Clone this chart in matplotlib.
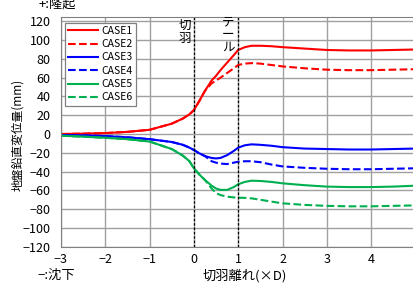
import matplotlib
matplotlib.use("Agg")
import matplotlib.pyplot as plt

plt.rcParams['font.family'] = ['Noto Sans CJK JP', 'DejaVu Sans']

# ---- data ----
x_common = [-3, -2.5, -2, -1.5, -1, -0.5, -0.25, -0.1, 0, 0.12, 0.25]
x_after = [0.4, 0.5, 0.6, 0.75, 0.9, 1.0, 1.15, 1.3, 1.5, 1.75, 2.0, 2.5, 3.0, 3.5, 4.0, 4.5, 5.0]

case1_pre = [0, 0.4, 1, 2.3, 4.5, 11, 16.5, 21, 25.5, 35, 46]
case1_post = [57, 62, 68, 76, 84, 89.5, 92.5, 94, 94, 93.5, 92.5, 91, 89.5, 89, 89, 89.5, 90]
case2_post = [54, 57, 60, 65, 70, 73.5, 75, 75.5, 75, 73.5, 72, 70, 68.5, 68, 68, 68.5, 69]

case3_pre = [-1, -1.5, -2.2, -3.5, -5.5, -8.5, -11.5, -14.5, -17, -20.5, -23.5]
case3_post = [-25.5, -26, -25.5, -22.5, -18, -14.5, -12, -11, -11.5, -12.5, -14, -15.5, -16, -16.5, -16.5, -16, -15.5]
case4_post = [-29, -30.5, -31.5, -32, -30.5, -29.5, -29, -29, -30, -32.5, -34.5, -36, -37, -37.5, -37.5, -37, -36.5]

case5_pre = [-1.8, -2.8, -4, -5.5, -8, -16, -23, -29, -36.5, -43, -49]
case5_post = [-55, -58, -59.5, -59.5, -56.5, -53.5, -51, -49.7, -50, -51, -52.5, -54.5, -56, -56.5, -56.5, -56, -55]
case6_post = [-58, -63, -65, -66.7, -67.5, -67.8, -68, -68.5, -70, -72, -73.8, -75.5, -76.5, -77, -77, -76.5, -76]

labels = ['CASE1', 'CASE2', 'CASE3', 'CASE4', 'CASE5', 'CASE6']
colors = ['#ff0000', '#ff0000', '#0000ff', '#0000ff', '#00b050', '#00b050']
styles = ['-', '--', '-', '--', '-', '--']

xticks = [-3, -2, -1, 0, 1, 2, 3, 4]
yticks = list(range(-120, 121, 20))

xs = x_common + x_after
series = [
    case1_pre + case1_post,
    case1_pre + case2_post,
    case3_pre + case3_post,
    case3_pre + case4_post,
    case5_pre + case5_post,
    case5_pre + case6_post,
]

W, H = 413, 283
fig = plt.figure(figsize=(W / 100, H / 100), dpi=100)
ax = fig.add_axes([61 / W, 1 - 246.7 / H, 354.4 / W, (246.7 - 17.3) / H])
ax.set_xlim(-3, 5)
ax.set_ylim(-120, 124.3)

ax.set_xticks(xticks)
ax.set_yticks(yticks)
ax.set_yticklabels([str(v).replace('-', '\u2212') for v in yticks])
ax.set_xticklabels([str(v).replace('-', '\u2212') for v in xticks])
ax.tick_params(length=0, labelsize=9, colors='black')
ax.tick_params(axis='y', pad=7.5)
ax.tick_params(axis='x', pad=4.5)
ax.grid(True, color='#a0a0a0', lw=1.0)
ax.set_axisbelow(True)
for s in ['top', 'left', 'bottom']:
    ax.spines[s].set_color('#808080')
ax.spines['right'].set_visible(False)

for ys, lab, c, ls in zip(series, labels, colors, styles):
    ax.plot(xs, ys, color=c, ls=ls, lw=1.5, label=lab)

ax.axvline(0, color='black', ls=(0, (2, 1.5)), lw=0.9)
ax.axvline(1, color='black', ls=(0, (2, 1.5)), lw=0.9)

leg = ax.legend(loc='upper left', bbox_to_anchor=(65 / W, 1 - 22.7 / H),
                bbox_transform=fig.transFigure, fontsize=7.5, frameon=True,
                fancybox=False, edgecolor='#808080', framealpha=1,
                handlelength=2.9, handletextpad=0.3, labelspacing=0.32,
                borderpad=0.3, borderaxespad=0)
leg.get_frame().set_linewidth(0.9)

fig.text(185 / W, 1 - 19 / H, '切\n羽', ha='center', va='top', fontsize=9,
         linespacing=1.0)
fig.text(228 / W, 1 - 15 / H, 'テ\nー\nル', ha='center', va='top', fontsize=9,
         linespacing=1.0)

fig.text(18 / W, 1 - 135 / H, '地盤鉛直変位量(mm)', rotation=90, ha='center',
         va='center', fontsize=8.5)
fig.text(39 / W, 1 - 5 / H, '+:隆起', ha='left', va='center', fontsize=9.5)
fig.text(38 / W, 1 - 275 / H, '\u2212:沈下', ha='left', va='center', fontsize=9.5)
fig.text(245 / W, 1 - 276 / H, '切羽離れ(×D)', ha='center', va='center',
         fontsize=9.5)

fig.savefig('out.png', dpi=100)
